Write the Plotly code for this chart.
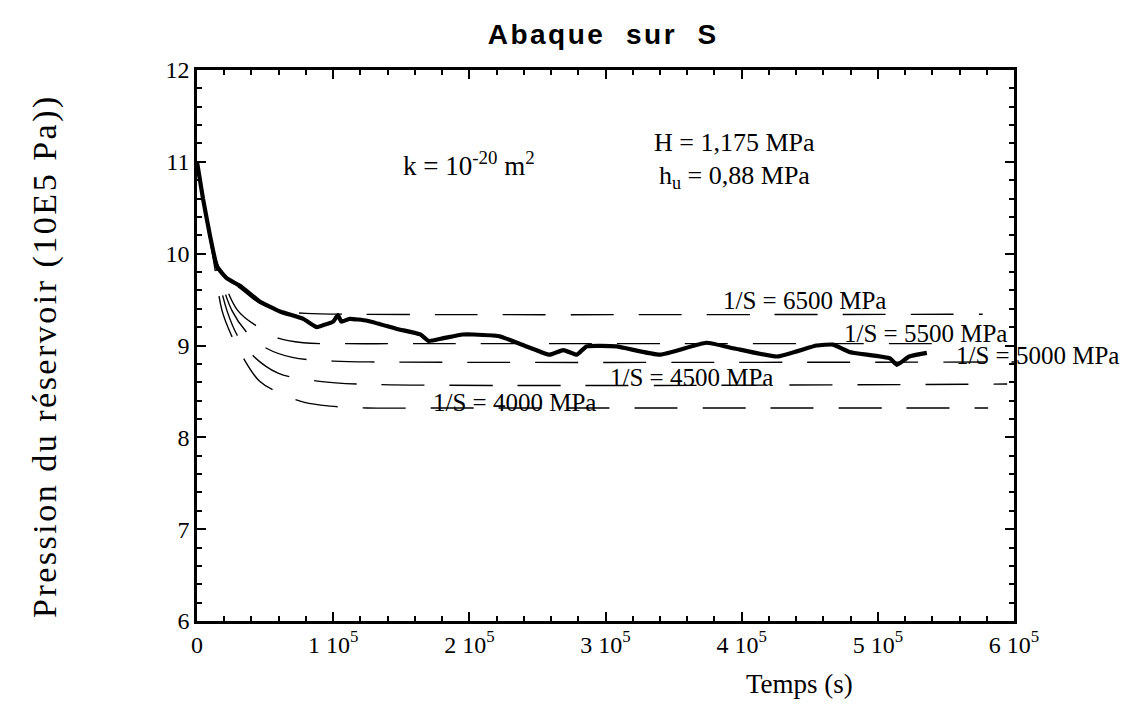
import plotly.graph_objects as go

# ---- measured series (t in s, pressure in 10^5 Pa) ----
data_t = [0, 4.4e3, 9.5e3, 14.7e3, 22e3, 31.6e3, 46e3, 61e3, 78e3, 88e3, 92.5e3, 100e3, 103.5e3,
          106e3, 112e3, 125e3, 147e3, 164e3, 170e3, 181e3, 195e3, 203e3, 222e3, 242e3, 259e3,
          269e3, 279e3, 286e3, 308e3, 340e3, 374e3, 394e3, 426e3, 455e3, 467e3, 479e3, 509e3,
          514e3, 523e3, 536e3]
data_p = [11.0, 10.60, 10.20, 9.86, 9.73, 9.65, 9.48, 9.37, 9.29, 9.20, 9.22, 9.26, 9.33,
          9.26, 9.29, 9.27, 9.18, 9.12, 9.05, 9.08, 9.12, 9.12, 9.10, 8.99, 8.90,
          8.95, 8.90, 8.99, 8.99, 8.90, 9.03, 8.97, 8.88, 9.00, 9.01, 8.93, 8.86,
          8.79, 8.88, 8.92]

s6500_t = [0, 4.4e3, 9.5e3, 15e3, 22e3, 32e3, 46e3, 61e3, 80e3, 120e3, 577e3]
s6500_p = [11.0, 10.60, 10.18, 9.88, 9.72, 9.62, 9.46, 9.38, 9.35, 9.34, 9.34]

s5500_t = [0, 4.4e3, 9.5e3, 16e3, 30e3, 45e3, 59.5e3, 78e3, 110e3, 150e3, 555e3]
s5500_p = [11.0, 10.60, 10.16, 9.85, 9.38, 9.20, 9.08, 9.03, 9.02, 9.02, 9.02]

s5000_t = [0, 4.4e3, 9.5e3, 15e3, 25.7e3, 38e3, 51e3, 70e3, 100e3, 140e3, 600e3]
s5000_p = [11.0, 10.60, 10.16, 9.85, 9.38, 9.12, 8.97, 8.87, 8.83, 8.82, 8.82]

s4500_t = [0, 4.4e3, 9.5e3, 14e3, 22e3, 30e3, 41e3, 59.5e3, 90e3, 120e3, 595e3]
s4500_p = [11.0, 10.60, 10.16, 9.85, 9.38, 9.10, 8.89, 8.70, 8.61, 8.58, 8.58]

s4000_t = [0, 4.4e3, 9.5e3, 13e3, 18.4e3, 25e3, 33e3, 46e3, 61e3, 79e3, 98e3, 125e3, 180e3, 581e3]
s4000_p = [11.0, 10.60, 10.16, 9.85, 9.38, 9.12, 8.89, 8.61, 8.48, 8.38, 8.34, 8.32, 8.32, 8.32]

x_ticks = [0, 1e5, 2e5, 3e5, 4e5, 5e5, 6e5]
x_ticktext = ["0", "1 10<sup>5</sup>", "2 10<sup>5</sup>", "3 10<sup>5</sup>",
              "4 10<sup>5</sup>", "5 10<sup>5</sup>", "6 10<sup>5</sup>"]
y_ticks = [6, 7, 8, 9, 10, 11, 12]

labels = ["1/S = 6500 MPa", "1/S = 5500 MPa", "1/S = 5000 MPa", "1/S = 4500 MPa", "1/S = 4000 MPa"]
label_t = [446e3, 535e3, 617e3, 363e3, 233e3]
label_p = [9.49, 9.13, 8.89, 8.65, 8.38]

SERIF = "Liberation Serif, Times New Roman, serif"
X_MAX = 6e5

fig = go.Figure()
for tt, pp in [(s6500_t, s6500_p), (s5500_t, s5500_p), (s5000_t, s5000_p),
               (s4500_t, s4500_p), (s4000_t, s4000_p)]:
    fig.add_trace(go.Scatter(x=tt, y=pp, mode="lines", line_shape="spline",
                             line=dict(color="black", width=1.4, dash="43px,25px"),
                             showlegend=False, hoverinfo="skip"))
fig.add_trace(go.Scatter(x=data_t, y=data_p, mode="lines", line_shape="spline",
                         line=dict(color="black", width=4.2, smoothing=0.4), showlegend=False))

for txt, tx, py in zip(labels, label_t, label_p):
    # labels beyond the axis range are placed in paper units so they stay visible
    fig.add_annotation(x=tx / X_MAX, xref="paper", y=py, yref="y", text=txt, showarrow=False,
                       xanchor="center", yanchor="middle",
                       font=dict(family=SERIF, size=25, color="black"))

fig.add_annotation(x=199.7e3, y=10.98, text="k = 10<sup>-20</sup> m<sup>2</sup>", showarrow=False,
                   font=dict(family=SERIF, size=27, color="black"))
fig.add_annotation(x=395e3, y=11.21, text="H = 1,175 MPa", showarrow=False,
                   font=dict(family=SERIF, size=26, color="black"))
fig.add_annotation(x=395e3, y=10.84, text="h<sub>u</sub> = 0,88 MPa", showarrow=False,
                   font=dict(family=SERIF, size=26, color="black"))

fig.add_annotation(xref="paper", yref="paper", x=0.738, y=-0.115, text="Temps (s)",
                   showarrow=False, xanchor="center", yanchor="middle",
                   font=dict(family=SERIF, size=27, color="black"))
fig.add_annotation(xref="paper", yref="paper", x=-0.186, y=0.481,
                   text='<span style="letter-spacing:2.5px">Pression du réservoir (10E5 Pa))</span>',
                   showarrow=False, textangle=-90, xanchor="center", yanchor="middle",
                   font=dict(family=SERIF, size=34, color="black"))

fig.update_layout(
    width=1121, height=712,
    margin=dict(l=189, r=115, t=62, b=99),
    paper_bgcolor="white", plot_bgcolor="white",
    title=dict(text='<span style="letter-spacing:2.5px">Abaque  sur  S</span>', x=0.531, xanchor="center",
               y=0.963, yanchor="middle",
               font=dict(family="Liberation Sans, Arial, sans-serif", size=28, color="black", weight="bold")),
    xaxis=dict(range=[0, X_MAX], tickvals=x_ticks, ticktext=x_ticktext, showgrid=False, zeroline=False,
               showline=True, linecolor="black", linewidth=2.5, mirror="ticks",
               ticks="inside", ticklen=9, tickwidth=2, tickcolor="black",
               minor=dict(dtick=2e4, ticks="inside", ticklen=5, tickwidth=1.5, tickcolor="black", showgrid=False),
               tickfont=dict(family=SERIF, size=24, color="black")),
    yaxis=dict(range=[6, 12], tickvals=y_ticks, showgrid=False, zeroline=False,
               showline=True, linecolor="black", linewidth=2.5, mirror="ticks",
               ticks="inside", ticklen=9, tickwidth=2, tickcolor="black",
               minor=dict(dtick=0.2, ticks="inside", ticklen=5, tickwidth=1.5, tickcolor="black", showgrid=False),
               tickfont=dict(family=SERIF, size=24, color="black")),
)

fig.write_html("out.html")
